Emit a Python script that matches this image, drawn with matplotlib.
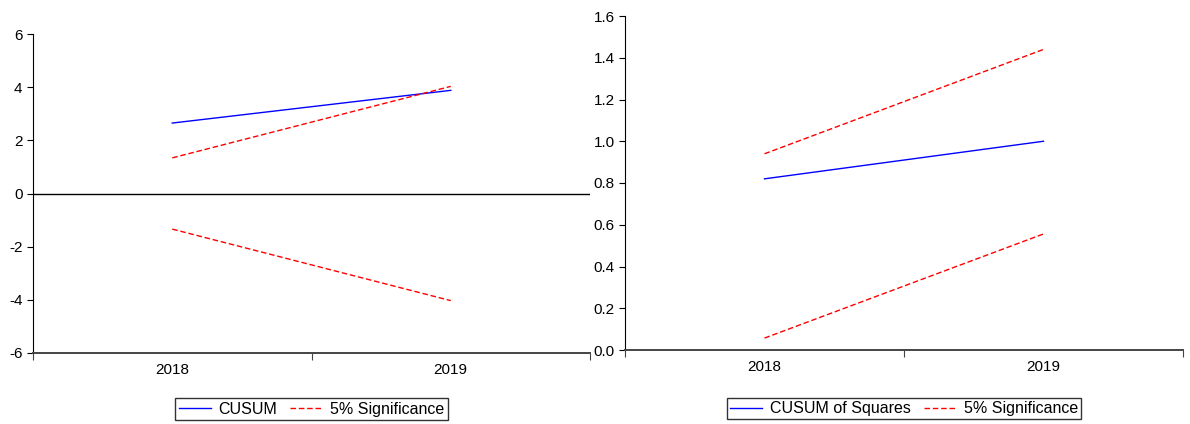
import matplotlib.pyplot as plt

plt.rcParams['font.family'] = ['Liberation Sans', 'DejaVu Sans']

years = [2018, 2019]
cusum = [2.65, 3.88]
cusum_upper = [1.34, 4.03]
cusum_lower = [-1.34, -4.03]

cusumsq = [0.82, 1.0]
sq_upper = [0.94, 1.44]
sq_lower = [0.057, 0.556]

fig = plt.figure(figsize=(11.9, 4.24), dpi=100)
ax1 = fig.add_axes([33 / 1190, 71 / 424, 557 / 1190, 319 / 424])
ax2 = fig.add_axes([625 / 1190, 74 / 424, 558 / 1190, 334 / 424])


def style(ax, yticks, fmt):
    ax.set_xlim(2017.5, 2019.5)
    ax.set_xticks([2017.5, 2018.5, 2019.5])
    ax.set_xticklabels([])
    ax.set_xticks(years, minor=True)
    ax.set_xticklabels([str(y) for y in years], minor=True)
    ax.tick_params(axis='x', which='major', direction='out', length=5, width=0.8, color='#444444')
    ax.tick_params(axis='x', which='minor', length=0, pad=7, labelsize=11)
    ax.set_yticks(yticks)
    ax.set_yticklabels([fmt % v for v in yticks])
    ax.tick_params(axis='y', direction='out', length=4, width=0.8, labelsize=11)
    ax.spines['top'].set_visible(False)
    ax.spines['right'].set_visible(False)
    ax.spines['bottom'].set_color('#444444')
    ax.spines['bottom'].set_linewidth(1.4)


leg_kw = dict(loc='upper center', ncol=2, fancybox=False, edgecolor='#333333',
              fontsize=11.5, handlelength=2.0, borderpad=0.2, columnspacing=0.8,
              handletextpad=0.5, framealpha=1)

ax1.plot(years, cusum, color='blue', lw=1, label='CUSUM')
ax1.plot(years, cusum_upper, color='red', lw=1, ls=(0, (4, 2)), label='5% Significance')
ax1.plot(years, cusum_lower, color='red', lw=1, ls=(0, (4, 2)))
ax1.axhline(0, color='black', lw=1)
ax1.set_ylim(-6, 6)
style(ax1, [-6, -4, -2, 0, 2, 4, 6], '%d')
ax1.legend(bbox_to_anchor=(0.5, -0.117), **leg_kw)

ax2.plot(years, cusumsq, color='blue', lw=1, label='CUSUM of Squares')
ax2.plot(years, sq_upper, color='red', lw=1, ls=(0, (4, 2)), label='5% Significance')
ax2.plot(years, sq_lower, color='red', lw=1, ls=(0, (4, 2)))
ax2.set_ylim(0, 1.6)
style(ax2, [0.0, 0.2, 0.4, 0.6, 0.8, 1.0, 1.2, 1.4, 1.6], '%.1f')
ax2.legend(bbox_to_anchor=(0.5, -0.12), **leg_kw)

fig.savefig('out.png', dpi=100)
